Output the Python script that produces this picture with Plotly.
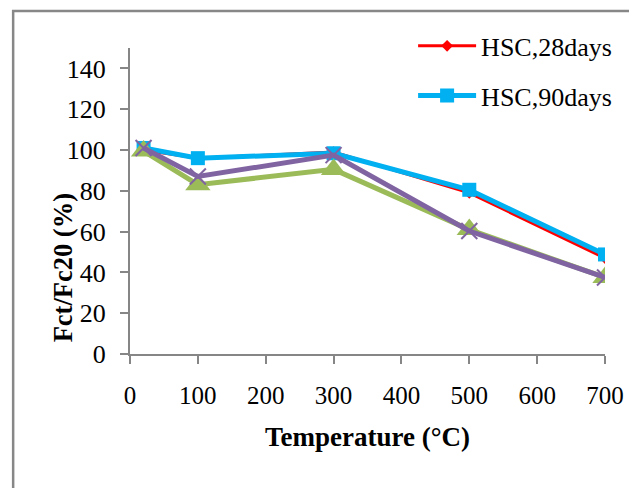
import plotly.graph_objects as go

temps = [20, 100, 300, 500, 700]
hsc28 = [100, 96, 99, 79, 47]
hsc90 = [101, 96, 98.4, 80.5, 48.8]
green = [99.5, 83, 90.5, 61, 37.5]
purple = [101, 87, 97.5, 60.3, 37.5]
ytick_vals = [0, 20, 40, 60, 80, 100, 120, 140]
xtick_vals = [0, 100, 200, 300, 400, 500, 600, 700]

fig = go.Figure()
fig.add_trace(go.Scatter(x=temps, y=hsc28, name="HSC,28days", mode="lines+markers",
                         line=dict(color="#FF0000", width=3),
                         marker=dict(symbol="diamond", size=9, color="#FF0000"),
                         legendgroup="a"))
fig.add_trace(go.Scatter(x=temps, y=hsc90, name="HSC,90days", mode="lines+markers",
                         line=dict(color="#00B0F0", width=5),
                         marker=dict(symbol="square", size=14, color="#00B0F0"),
                         legendgroup="b"))
fig.add_trace(go.Scatter(x=temps, y=green, name="green", mode="lines+markers",
                         line=dict(color="#9BBB59", width=5),
                         marker=dict(symbol="triangle-up", size=22, color="#9BBB59"),
                         showlegend=False))
fig.add_trace(go.Scatter(x=temps, y=purple, name="purple", mode="lines+markers",
                         line=dict(color="#8064A2", width=5),
                         marker=dict(symbol="x-thin", size=16, color="#8064A2",
                                     line=dict(color="#8064A2", width=2)),
                         showlegend=False))

fig.add_shape(type="rect", xref="paper", yref="paper",
              x0=-0.246, x1=1.2, y0=-0.6, y1=1.121,
              line=dict(color="#878787", width=2.5), layer="below")

fig.add_annotation(text="<b>Fct/Fc20 (%)</b>", textangle=-90, showarrow=False,
                   xref="paper", yref="paper", x=-0.141, y=0.28,
                   xanchor="center", yanchor="middle",
                   font=dict(family="Liberation Serif", size=26.5, color="black"))

fig.update_layout(
    width=629, height=488,
    margin=dict(l=130, r=24, t=48, b=134),
    paper_bgcolor="white", plot_bgcolor="white",
    font=dict(family="Liberation Serif", size=26, color="black"),
    showlegend=True,
    legend=dict(x=0.596, y=1.0837, xanchor="left", yanchor="top",
                bgcolor="rgba(0,0,0,0)", tracegroupgap=13, itemwidth=58,
                font=dict(family="Liberation Serif", size=26)),
    xaxis=dict(range=[0, 700], tickvals=xtick_vals, showgrid=False, zeroline=False,
               showline=True, linecolor="#868686", linewidth=2, automargin=False,
               ticks="outside", ticklen=8, tickcolor="#868686", tickwidth=2,
               ticklabelstandoff=10, tickfont=dict(size=25),
               title=dict(text="<b>Temperature (°C)</b>", standoff=19,
                          font=dict(size=27))),
    yaxis=dict(range=[0, 150], tickvals=ytick_vals, showgrid=False, zeroline=False,
               showline=True, linecolor="#868686", linewidth=2, automargin=False,
               ticks="outside", ticklen=8, tickcolor="#868686", tickwidth=2,
               ticklabelstandoff=9),
)

fig.write_html("out.html",
               config={"displayModeBar": False},
               post_script="document.body.style.margin='0';document.body.style.overflow='hidden';")
